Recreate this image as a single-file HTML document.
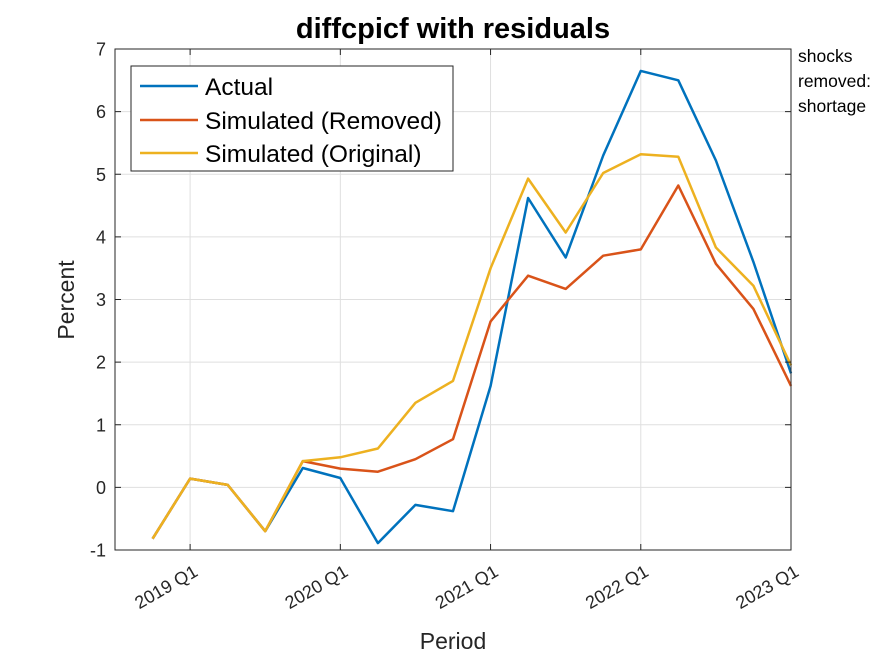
<!DOCTYPE html>
<html><head><meta charset="utf-8"><style>
body{margin:0;background:#fff;overflow:hidden;}
svg text{font-family:"Liberation Sans",Arial,sans-serif;}
</style></head><body>
<svg id="chart" width="875" height="656" viewBox="0 0 875 656" xmlns="http://www.w3.org/2000/svg">
<rect width="875" height="656" fill="#fff"/>
<g id="grid"></g>
<g id="series"></g>
<rect x="115" y="49" width="676" height="501" fill="none" stroke="#262626" stroke-width="1"/>
<g id="ticks"></g>
<text x="453" y="38" font-size="29" font-weight="bold" text-anchor="middle" fill="#000">diffcpicf with residuals</text>
<text x="453" y="649" font-size="23" text-anchor="middle" fill="#262626">Period</text>
<text transform="translate(74,300) rotate(-90)" font-size="23" text-anchor="middle" fill="#262626">Percent</text>
<g font-size="17.5" fill="#000">
<text x="798" y="62">shocks</text>
<text x="798" y="87">removed:</text>
<text x="798" y="112">shortage</text>
</g>
<g>
<rect x="131" y="66" width="322" height="105" fill="#fff" stroke="#262626" stroke-width="1"/>
<line x1="140" y1="86" x2="198" y2="86" stroke="#0072BD" stroke-width="2.5"/>
<text x="205" y="95" font-size="24.5" fill="#000">Actual</text>
<line x1="140" y1="120" x2="198" y2="120" stroke="#D95319" stroke-width="2.5"/>
<text x="205" y="129" font-size="24.5" fill="#000">Simulated (Removed)</text>
<line x1="140" y1="153" x2="198" y2="153" stroke="#EDB120" stroke-width="2.5"/>
<text x="205" y="162" font-size="24.5" fill="#000">Simulated (Original)</text>
</g>
</svg>
<script>
const periods = ["2018 Q4","2019 Q1","2019 Q2","2019 Q3","2019 Q4","2020 Q1","2020 Q2","2020 Q3","2020 Q4","2021 Q1","2021 Q2","2021 Q3","2021 Q4","2022 Q1","2022 Q2","2022 Q3","2022 Q4","2023 Q1"];
const actual = [-0.82,0.14,0.04,-0.70,0.31,0.15,-0.89,-0.28,-0.38,1.62,4.62,3.67,5.30,6.65,6.50,5.22,3.60,1.82];
const simRemoved = [-0.82,0.14,0.04,-0.70,0.42,0.30,0.25,0.45,0.77,2.65,3.38,3.17,3.70,3.80,4.82,3.57,2.85,1.62];
const simOriginal = [-0.82,0.14,0.04,-0.70,0.42,0.48,0.62,1.35,1.70,3.50,4.93,4.07,5.02,5.32,5.28,3.83,3.22,1.95];
const yTicks = [-1,0,1,2,3,4,5,6,7];
const xTickLabels = ["2019 Q1","2020 Q1","2021 Q1","2022 Q1","2023 Q1"];
const xTickIndex = [1,5,9,13,17];

const NS="http://www.w3.org/2000/svg";
const L=115,R=791,T=49,B=550;
const xMin=-1, xMax=17;
function xs(i){return L+(i-xMin)/(xMax-xMin)*(R-L);}
function ys(v){return B-(v-(-1))/(7-(-1))*(B-T);}
function mk(tag,attrs,parent){const e=document.createElementNS(NS,tag);for(const k in attrs)e.setAttribute(k,attrs[k]);parent.appendChild(e);return e;}
const grid=document.getElementById('grid'),ticks=document.getElementById('ticks'),ser=document.getElementById('series');
yTicks.forEach(v=>{
  const y=ys(v);
  const g=mk('line',{x1:L,x2:R,y1:y,y2:y,stroke:'#dfdfdf','stroke-width':1},grid);
  
  
  mk('line',{x1:L,x2:L+6,y1:y,y2:y,stroke:'#262626'},ticks);
  mk('line',{x1:R,x2:R-6,y1:y,y2:y,stroke:'#262626'},ticks);
  const t=mk('text',{x:L-9,y:y+6.5,'font-size':18,'text-anchor':'end',fill:'#262626'},ticks);
  t.textContent=v;
  
  
});
xTickIndex.forEach((idx,k)=>{
  const x=xs(idx);
  const g=mk('line',{x1:x,x2:x,y1:T,y2:B,stroke:'#dfdfdf','stroke-width':1},grid);
  
  
  mk('line',{x1:x,x2:x,y1:B,y2:B-6,stroke:'#262626'},ticks);
  mk('line',{x1:x,x2:x,y1:T,y2:T+6,stroke:'#262626'},ticks);
  const tx=x+9, ty=B+25;
  const t=mk('text',{x:tx,y:ty,'font-size':18,'text-anchor':'end',fill:'#262626',transform:`rotate(-30 ${tx} ${ty})`},ticks);
  t.textContent=xTickLabels[k];
  
  
});
function drawLine(data,color,name){
  const pts=data.map((v,i)=>xs(i).toFixed(1)+','+ys(v).toFixed(1)).join(' ');
  const p=mk('polyline',{points:pts,fill:'none',stroke:color,'stroke-width':2.5,'stroke-linejoin':'round'},ser);
  
  
}
drawLine(actual,'#0072BD','line-actual');
drawLine(simRemoved,'#D95319','line-simulated-removed');
drawLine(simOriginal,'#EDB120','line-simulated-original');
</script>
</body></html>
